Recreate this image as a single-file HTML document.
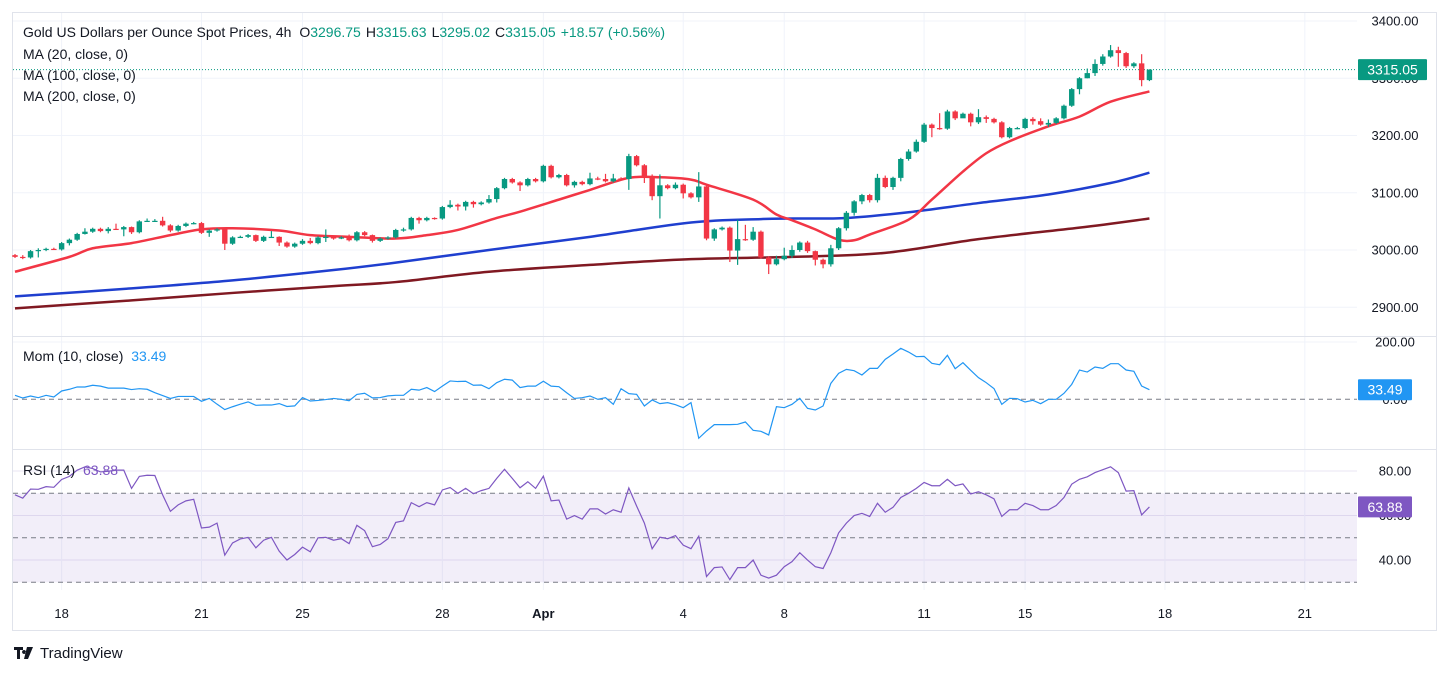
<!DOCTYPE html>
<html><head><meta charset="utf-8">
<style>
html,body{margin:0;padding:0;background:#fff;}
body{width:1446px;height:674px;overflow:hidden;font-family:"Liberation Sans",sans-serif;}
svg text{font-family:"Liberation Sans",sans-serif;}
</style></head>
<body>
<svg id="chart" width="1446" height="674" xmlns="http://www.w3.org/2000/svg">
  <rect x="12.5" y="12.5" width="1424" height="618" fill="#fff" stroke="#e0e3eb" stroke-width="1"/>
  <g id="grid"></g>
  <rect id="rsiBand" x="13" y="0" width="1344" height="0" fill="#7e57c2" fill-opacity="0.1"/>
  <g id="marks"></g>
  <line x1="13" y1="336.5" x2="1437" y2="336.5" stroke="#e0e3eb"/>
  <line x1="13" y1="449.5" x2="1437" y2="449.5" stroke="#e0e3eb"/>
  <line x1="13" y1="590.5" x2="1357" y2="590.5" stroke="#fff"/>
  <g id="axes" font-size="13" fill="#131722"></g>
  <g font-size="14" fill="#131722">
    <text x="23" y="37">Gold US Dollars per Ounce Spot Prices, 4h <tspan dx="4">O</tspan><tspan fill="#089981">3296.75</tspan><tspan dx="5">H</tspan><tspan fill="#089981">3315.63</tspan><tspan dx="5">L</tspan><tspan fill="#089981">3295.02</tspan><tspan dx="5">C</tspan><tspan fill="#089981">3315.05</tspan><tspan dx="5" fill="#089981">+18.57 (+0.56%)</tspan></text>
    <text x="23" y="59">MA (20, close, 0)</text>
    <text x="23" y="80">MA (100, close, 0)</text>
    <text x="23" y="101">MA (200, close, 0)</text>
    <text x="23" y="361">Mom (10, close) <tspan dx="4" fill="#2196f3">33.49</tspan></text>
    <text x="23" y="475">RSI (14) <tspan dx="4" fill="#7e57c2">63.88</tspan></text>
  </g>
  <g>
    <path d="M14 647h9v3h-3v9h-3v-9h-3z M24 650a2 2 0 1 0 0.1 0z M27 647h6l-5 12h-4z" fill="#131722"/>
    <text x="40" y="658" font-size="15" fill="#131722">TradingView</text>
  </g>
</svg>
<script>
// ---- data ----
const closes=[2988,2987,2998,3000,3002,3001,3012,3018,3028,3032,3037,3033,3037,3036,3040,3031,3050,3051,3051,3043,3034,3042,3046,3047,3030,3034,3036,3011,3022,3023,3026,3016,3023,3023,3013,3006,3011,3016,3012,3022,3023,3020,3022,3017,3031,3026,3016,3020,3022,3035,3036,3056,3052,3056,3055,3075,3079,3076,3084,3080,3083,3089,3108,3124,3118,3113,3124,3120,3147,3127,3131,3113,3119,3115,3125,3124,3120,3125,3124,3164,3148,3127,3094,3113,3108,3114,3099,3092,3111,3020,3036,3039,2999,3019,3018,3032,2987,2975,2984,2990,3000,3013,2998,2983,2975,3003,3038,3065,3085,3096,3087,3126,3110,3126,3159,3172,3189,3219,3213,3212,3242,3230,3238,3223,3232,3229,3223,3197,3213,3213,3229,3225,3219,3222,3230,3252,3281,3300,3309,3325,3338,3349,3344,3321,3326,3296.75,3315.05];
const opens=[2991,2988,2987,2998,3000,3002,3001,3012,3018,3028,3032,3037,3033,3037,3036,3040,3031,3050,3051,3051,3043,3034,3042,3046,3047,3030,3034,3036,3011,3022,3023,3026,3016,3023,3023,3013,3006,3011,3016,3012,3022,3023,3020,3022,3017,3031,3026,3016,3020,3022,3035,3036,3056,3052,3056,3055,3075,3079,3076,3084,3080,3083,3089,3108,3124,3118,3113,3124,3120,3147,3127,3131,3113,3119,3115,3125,3124,3120,3125,3124,3164,3148,3127,3094,3113,3108,3114,3099,3092,3111,3020,3036,3039,2999,3019,3018,3032,2987,2975,2984,2990,3000,3013,2998,2983,2975,3003,3038,3065,3085,3096,3087,3126,3110,3126,3159,3172,3189,3219,3213,3212,3242,3230,3238,3223,3232,3229,3223,3197,3213,3213,3229,3225,3219,3222,3230,3252,3281,3300,3309,3325,3338,3349,3344,3321,3326,3296.75];
const highs=[2993,2991,3000,3003,3004,3004,3014,3020,3030,3038,3039,3039,3040,3046,3042,3041,3052,3055,3054,3058,3045,3044,3048,3049,3049,3036,3038,3037,3024,3025,3028,3027,3025,3033,3024,3015,3013,3019,3021,3024,3036,3024,3024,3027,3033,3033,3027,3022,3024,3037,3039,3058,3058,3058,3057,3077,3087,3081,3086,3086,3085,3096,3110,3126,3126,3120,3126,3126,3149,3149,3133,3133,3121,3121,3135,3128,3133,3133,3127,3168,3166,3150,3132,3132,3115,3118,3116,3101,3136,3113,3038,3041,3041,3053,3044,3040,3034,2989,2990,3004,3008,3015,3016,2999,2985,3009,3040,3068,3087,3098,3098,3133,3130,3128,3161,3176,3193,3222,3221,3239,3245,3244,3240,3240,3246,3235,3231,3225,3215,3215,3231,3232,3230,3228,3232,3254,3283,3302,3317,3333,3342,3358,3355,3346,3328,3342,3315.63];
const lows=[2986,2984,2985,2987,2998,3000,2999,3008,3016,3027,3030,3031,3029,3035,3024,3028,3029,3049,3049,3041,3031,3032,3040,3045,3028,3023,3032,3000,3009,3021,3021,3014,3014,3021,3007,3004,3004,3009,3010,3010,3014,3018,3019,3015,3015,3024,3013,3014,3018,3020,3032,3034,3046,3050,3053,3053,3073,3069,3069,3074,3078,3081,3083,3106,3116,3103,3111,3118,3118,3125,3125,3111,3109,3113,3113,3122,3118,3118,3122,3105,3146,3117,3087,3055,3106,3106,3090,3090,3084,3017,3016,3034,2979,2974,3016,3016,2985,2958,2973,2982,2986,2997,2995,2973,2968,2971,3000,3034,3060,3080,3083,3083,3108,3105,3120,3156,3170,3187,3197,3210,3210,3227,3236,3216,3220,3222,3221,3195,3195,3211,3211,3219,3217,3215,3220,3228,3250,3272,3300,3304,3322,3336,3320,3318,3318,3286,3295.02];
const ma20Idx=[0,7,10,15,20,24,28,34,38,43,49,53,57,62,65,70,74,79,83,87,89,95,98,100,103,106,108,110,115,118,122,125,128,133,137,141,146];
const ma20Val=[2962,2988,3003,3012,3026,3036,3038,3034,3026,3023,3020,3026,3035,3056,3067,3088,3105,3126,3127,3123,3114,3088,3062,3052,3036,3018,3017,3027,3053,3088,3137,3169,3190,3216,3233,3259,3277];
const ma100Idx=[0,15,28,41,49,61,74,87,96,100,107,115,124,133,141,146];
const ma100Val=[2919,2933,2947,2965,2978,3000,3023,3048,3054,3055,3056,3066,3082,3097,3117,3135];
const ma200Idx=[0,15,28,41,49,61,74,87,100,112,124,137,146];
const ma200Val=[2898,2912,2925,2937,2944,2962,2974,2984,2988,2995,3019,3039,3055];
const momVals=[14,4.5,11.5,5.7,13.8,8,29,35,43,43,49,46,39,39,39,34,37,35,23,13,3,10,10,10,-7,3,-17,-36,-26,-17,-9,-21,-20,-20,-15,-25,-23,6,-6,-4,-1,3,0,-5,17,21,5,6,12,14,14,35,32,41,27,46,64,62,63,49,50,37,58,70,67,41,46,46,63,46,44,23,3,5.7,11.5,0,5.7,-17.6,37,19.7,17.3,-23.4,-2.4,-15.2,-11.7,-18.7,-29.2,-11.7,-136,-110.6,-88.5,-88.5,-88.5,-87.3,-79.2,-108.2,-111.7,-124.5,-25.7,-29.2,-17.6,3.4,-31.5,-37.3,-23.4,55.7,90.6,104.5,99.9,84.8,108,108,139.4,158,177.8,165,148.7,149.9,125.5,120.8,153.4,106.9,127.8,101,75.5,58,37.1,-17.6,3.4,2.2,-9.4,-3.6,-15.2,0,0,20.8,52.2,102.2,95.2,112.7,108,124.3,124.3,102.2,97.6,46.4,33.49];
const rsiVals=[69.3,67.8,71.9,71.8,73,72.7,76.2,77.6,80.4,81.9,81.1,79.6,79.9,80.4,80.4,72.2,77.6,78.1,78,69.3,61.9,64.8,66.6,67.3,54.4,54.8,56.6,42.2,47.7,49.5,50.2,45.5,48.9,50.2,44,40,42.5,45.8,43.7,50,50.2,48.9,49.6,47.4,55.6,53.2,46,47,49.6,56.9,57.6,65.8,64,65.8,64.8,71.5,72.6,70,72.2,69.8,71.2,72.2,76.7,80.8,76.7,72.5,75.2,72.2,77.7,66.6,67,58.4,60,58.4,63,63,60.7,62.6,61.5,72.4,64.3,56.6,45.1,50.3,49.6,51,46.7,45.1,50.7,32.6,36.6,36.9,31.2,36.6,36.6,40,33.2,31.9,33.2,37,39.3,43.3,40,37,36.2,43.3,52.2,56.6,60,61,59.6,65.5,61.5,63.7,68.1,70,72.2,74.9,73.4,73.4,76.3,73.4,74.2,69.7,70.7,69.3,67.5,59.6,62.6,62.6,65.5,64.5,62.6,62.6,64.5,68.1,74.1,76.3,77.4,79.3,80.6,81.9,79.3,71,71.2,60.3,63.88];
const priceTicks=[3400,3300,3200,3100,3000,2900];
const momTicks=[200,0];
const rsiTicks=[80,60,40];
const rsiLevels=[70,50,30];
const timeLabels=["18","21","25","28","Apr","4","8","11","15","18","21"];
const timeLabelPos=[6,24,37,55,68,86,99,117,130,148,166]; // candle-index positions of day ticks
const lastPrice=3315.05, lastMom=33.49, lastRsi=63.88;

// ---- axis functions ----
const X0=15, DX=7.77;
const xOf=i=>X0+i*DX;
const yP=p=>21+(3400-p)*0.5725;
const yM=v=>399.3-v*0.2865;
const yR=v=>493.3-(v-70)*2.225;

const NS="http://www.w3.org/2000/svg";
function mk(tag,attrs,parent){const e=document.createElementNS(NS,tag);for(const k in attrs)e.setAttribute(k,attrs[k]);parent.appendChild(e);return e;}
const grid=document.getElementById('grid'), marks=document.getElementById('marks'), axes=document.getElementById('axes');

// horizontal grid
priceTicks.forEach(p=>{const l=mk('line',{x1:13,x2:1357,y1:yP(p),y2:yP(p),stroke:'#f0f3fa'},grid);

});
momTicks.filter(v=>v!==0).forEach(v=>{const l=mk('line',{x1:13,x2:1357,y1:yM(v),y2:yM(v),stroke:'#f0f3fa'},grid);

});
rsiTicks.forEach(v=>{const l=mk('line',{x1:13,x2:1357,y1:yR(v),y2:yR(v),stroke:'#e9e6f3'},grid);

});
// vertical grid + time labels
timeLabels.forEach((t,k)=>{const x=xOf(timeLabelPos[k]);
const l=mk('line',{x1:x,x2:x,y1:13,y2:590,stroke:'#f0f3fa'},grid);


const tx=mk('text',{x:x,y:618,'text-anchor':'middle','font-weight':t==='Apr'?'bold':'normal'},axes);
tx.textContent=t;

});

// RSI band
const band=document.getElementById('rsiBand');
band.setAttribute('y',yR(rsiLevels[0]));band.setAttribute('height',yR(rsiLevels[2])-yR(rsiLevels[0]));

// dashed levels
[[yM(0),'mom-zero-line']].concat(rsiLevels.map(v=>[yR(v),'rsi-level-line'])).forEach(([y,n])=>{
const l=mk('line',{x1:13,x2:1357,y1:y,y2:y,stroke:'#787b86','stroke-dasharray':'5,4'},marks);

});

// current price line
const cpl=mk('line',{x1:13,x2:1357,y1:yP(lastPrice),y2:yP(lastPrice),stroke:'#089981','stroke-dasharray':'1,2'},marks);



// MA lines
function smoothPath(pts){let d='M'+pts[0][0]+','+pts[0][1];
for(let i=0;i<pts.length-1;i++){const p0=pts[Math.max(0,i-1)],p1=pts[i],p2=pts[i+1],p3=pts[Math.min(pts.length-1,i+2)];
const c1=[p1[0]+(p2[0]-p0[0])/6,p1[1]+(p2[1]-p0[1])/6],c2=[p2[0]-(p3[0]-p1[0])/6,p2[1]-(p3[1]-p1[1])/6];
d+=' C'+c1[0]+','+c1[1]+' '+c2[0]+','+c2[1]+' '+p2[0]+','+p2[1];}return d;}
[[ma200Idx,ma200Val,'#801922','ma200-line'],[ma100Idx,ma100Val,'#1f3fcf','ma100-line'],[ma20Idx,ma20Val,'#f23645','ma20-line']].forEach(([ix,vals,c,n])=>{
const p=mk('path',{d:smoothPath(ix.map((i,k)=>[xOf(i),yP(vals[k])])),fill:'none',stroke:c,'stroke-width':2.5},marks);

});

// candles
closes.forEach((c,i)=>{const o=opens[i],up=c>=o,col=up?'#089981':'#f23645',x=xOf(i);
const g=mk('g',{},marks);


mk('line',{x1:x,x2:x,y1:yP(highs[i]),y2:yP(lows[i]),stroke:col,'stroke-width':1.2},g);
const yt=yP(Math.max(o,c)),yb=yP(Math.min(o,c));
mk('rect',{x:x-2.7,y:yt,width:5.4,height:Math.max(1.2,yb-yt),fill:col},g);});

// momentum & rsi lines
const mp=mk('polyline',{points:momVals.map((v,i)=>xOf(i)+','+yM(v)).join(' '),fill:'none',stroke:'#2196f3','stroke-width':1.2},marks);


const rp=mk('polyline',{points:rsiVals.map((v,i)=>xOf(i)+','+yR(v)).join(' '),fill:'none',stroke:'#7e57c2','stroke-width':1.2},marks);



// axis labels
function lab(y,t,n){const e=mk('text',{x:1395,y:y+4.5,'text-anchor':'middle'},axes);e.textContent=t;

}
priceTicks.forEach(p=>lab(yP(p),p.toFixed(2),'price-tick-label'));
momTicks.forEach(v=>lab(yM(v),v.toFixed(2),'mom-tick-label'));
rsiTicks.forEach(v=>lab(yR(v),v.toFixed(2),'rsi-tick-label'));
function badge(y,t,col,w,n){const g=mk('g',{},axes);


mk('rect',{x:1358,y:y-10.5,width:w,height:21,fill:col,rx:1},g);
const e=mk('text',{x:1358+w/2,y:y+5,'text-anchor':'middle',fill:'#fff','font-size':14},g);e.textContent=t;}
badge(yP(lastPrice),lastPrice.toFixed(2),'#089981',69,'last-price-badge');
badge(yM(lastMom),lastMom.toFixed(2),'#2196f3',54,'mom-value-badge');
badge(yR(lastRsi),lastRsi.toFixed(2),'#7e57c2',54,'rsi-value-badge');
</script>
</body></html>
